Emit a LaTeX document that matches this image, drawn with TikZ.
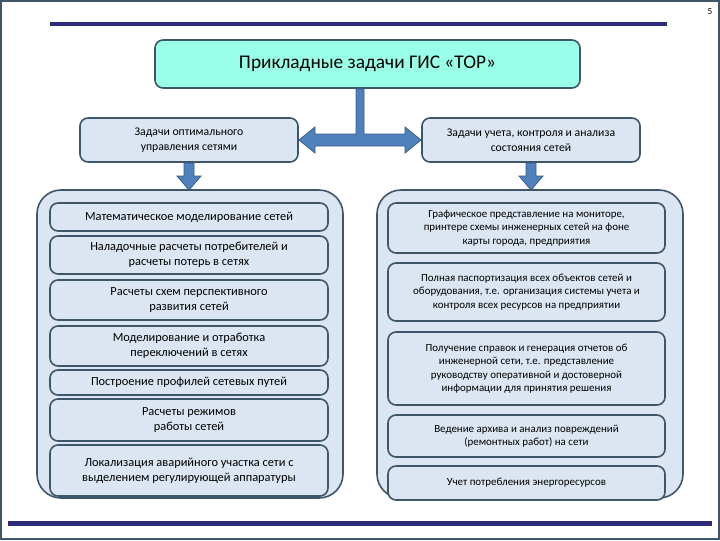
\documentclass[tikz,border=0pt]{standalone}
\usepackage{fontspec}
\setmainfont{Carlito}
\usetikzlibrary{shapes.arrows}
\definecolor{bar}{HTML}{2E2A7A}
\definecolor{edge}{HTML}{3F5568}
\definecolor{fillb}{HTML}{DCE6F2}
\definecolor{aqua}{HTML}{99FFE6}
\definecolor{arr}{HTML}{4F81BD}
\definecolor{arre}{HTML}{385D8A}
\begin{document}
\begin{tikzpicture}[x=0.75pt,y=-0.75pt,
 box/.style={draw=edge,line width=1.2pt,fill=fillb,rounded corners=6pt,align=center,font=\fontsize{8.2}{10}\selectfont,inner sep=0pt},
 panel/.style={draw=edge,line width=1.2pt,fill=fillb,rounded corners=18pt},
 ar/.style={fill=arr,draw=arre,line width=0.6pt}]
\useasboundingbox (0,0) rectangle (720,540);
\draw[edge,line width=0.8pt] (1,1) rectangle (719,539);
\node[font=\fontsize{7}{8}\selectfont] (pg) at (710,12) {5};
\fill[bar] (50,22) rectangle (667,26);
\fill[bar] (8,521) rectangle (712,526);
\node[box,fill=aqua,minimum width=425*0.75pt,minimum height=48*0.75pt,font=\fontsize{14.5}{17}\selectfont] (t) at (367.5,64) {Прикладные задачи ГИС «ТОР»};
\node[box,minimum width=218*0.75pt,minimum height=44*0.75pt,font=\fontsize{8.8}{11}\selectfont] (l) at (189,140) {Задачи оптимального\\управления сетями};
\node[box,minimum width=218*0.75pt,minimum height=44*0.75pt,font=\fontsize{8.8}{11}\selectfont] (r) at (531,140) {Задачи учета, контроля и анализа\\состояния сетей};
% stem and double arrow
\draw[ar] (356,89) -- (364,89) -- (364,134) -- (405,134) -- (405,127) -- (421,140) -- (405,153) -- (405,146) -- (315,146) -- (315,153) -- (299,140) -- (315,127) -- (315,134) -- (356,134) -- cycle;
\node[panel,minimum width=306*0.75pt,minimum height=308*0.75pt] (lp) at (190,344) {};
\node[panel,minimum width=306*0.75pt,minimum height=308*0.75pt] (rp) at (530,344) {};
\draw[ar] (184,163) -- (194,163) -- (194,176) -- (201,176) -- (189,190) -- (177,176) -- (184,176) -- cycle;
\draw[ar] (526,163) -- (536,163) -- (536,176) -- (543,176) -- (531,190) -- (519,176) -- (526,176) -- cycle;
\foreach \n/\ya/\yb/\t in {
 a/203/231/{Математическое моделирование сетей},
 b/236/274/{Наладочные расчеты потребителей и\\расчеты потерь в сетях},
 c/280/320/{Расчеты схем перспективного\\развития сетей},
 d/326/366/{Моделирование и отработка\\переключений в сетях},
 e/370/395/{Построение профилей сетевых путей},
 f/399/441/{Расчеты режимов\\работы сетей},
 g/445/496/{Локализация аварийного участка сети с\\выделением регулирующей аппаратуры}}
 \node[box,font=\fontsize{9.3}{11.5}\selectfont,minimum width=278*0.75pt,minimum height={(\yb-\ya)*0.75pt}] (\n) at (189,{(\ya+\yb)/2}) {\t};
\foreach \n/\ya/\yb/\t in {
 h/203/253/{Графическое представление на мониторе,\\принтере схемы инженерных сетей на фоне\\карты города, предприятия},
 i/263/321/{Полная паспортизация всех объектов сетей и\\оборудования, т.е. организация системы учета и\\контроля всех ресурсов на предприятии},
 j/332/405/{Получение справок и генерация отчетов об\\инженерной сети, т.е. представление\\руководству оперативной и достоверной\\информации для принятия решения},
 k/415/457/{Ведение архива и анализ повреждений\\(ремонтных работ) на сети},
 m/466/500/{Учет потребления энергоресурсов}}
 \node[box,minimum width=277*0.75pt,minimum height={(\yb-\ya)*0.75pt}] (\n) at (526.5,{(\ya+\yb)/2}) {\t};
\end{tikzpicture}
\end{document}
